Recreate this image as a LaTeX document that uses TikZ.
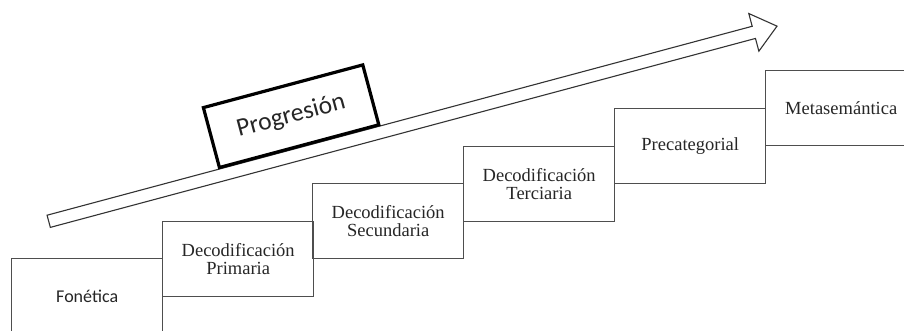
\documentclass[tikz,border=0pt]{standalone}
\usepackage{fontspec}
\setmainfont{Liberation Serif}
\newfontfamily\calibfont{Carlito}
\definecolor{boxline}{HTML}{4E4E4E}
\definecolor{txt}{HTML}{262626}
\tikzset{
  stepbox/.style={draw=boxline, line width=1.4pt, minimum width=151pt, minimum height=75pt,
    inner sep=0pt, anchor=north west, align=center, text=txt,
    font=\fontsize{18.5}{18.5}\selectfont},
  sansbox/.style={stepbox, font=\calibfont\fontsize{18}{18}\selectfont},
  bigarrow/.style={draw=black!80, line width=1.1pt, line join=miter},
  progbox/.style={draw=black, line width=3.2pt, minimum width=165pt, minimum height=62pt,
    inner sep=0pt, rotate=15, text=black!85, font=\calibfont\fontsize{25.5}{25.5}\selectfont}
}
\begin{document}
\begin{tikzpicture}[x=1pt,y=1pt]
\clip (0,0) rectangle (904,-331);
\fill[white] (0,0) rectangle (904,-331);
% step boxes
\node[sansbox] (fon) at (11,-258) {Fon\'etica};
\node[stepbox] (pri) at (162,-221) {Decodificaci\'on\\Primaria};
\node[stepbox] (sec) at (312,-183) {Decodificaci\'on\\Secundaria};
\node[stepbox] (ter) at (463,-146) {Decodificaci\'on\\Terciaria};
\node[stepbox] (pre) at (614,-108) {Precategorial};
\node[stepbox] (met) at (765,-70) {Metasem\'antica};
% hollow arrow
\begin{scope}[shift={(48.7,-221.3)}, rotate=15]
\draw[bigarrow] (0,-6.3) -- (730,-6.3) -- (730,-19.5) -- (754,0) -- (730,19.5) -- (730,6.3) -- (0,6.3) -- cycle;
\end{scope}
% label box
\node[progbox] (prog) at (291.1,-116.2) {Progresi\'on};
\end{tikzpicture}
\end{document}
